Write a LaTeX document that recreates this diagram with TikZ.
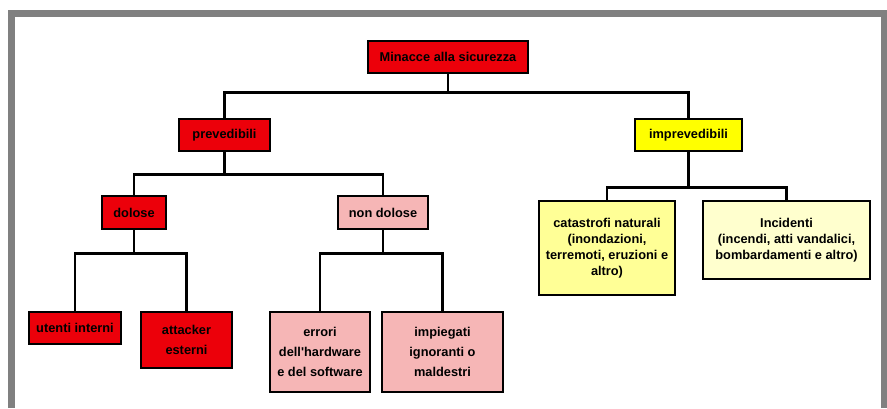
\documentclass[tikz,border=0pt]{standalone}
\usepackage{fontspec}
\setmainfont{Liberation Sans}

\definecolor{threatred}{RGB}{236,0,10}
\definecolor{threatpink}{RGB}{246,182,182}
\definecolor{threatyellow}{RGB}{255,255,0}
\definecolor{paleyellow}{RGB}{255,255,150}
\definecolor{lightyellow}{RGB}{255,255,206}

\tikzstyle{element}=[rectangle, draw=black, line width=2.4pt, inner sep=0pt,
                     align=center, font=\bfseries\fontsize{12.8}{16}\selectfont]
\tikzstyle{tall}=[element, font=\bfseries\fontsize{12.8}{20}\selectfont]
\tikzstyle{link}=[line width=2.6pt, black]

\begin{document}
\begin{tikzpicture}[x=1pt, y=-1pt]
  \useasboundingbox (0, 0) rectangle (887, 408);

  %%%%%%%%%%%%%%%%%%%%%%%%%%%%%%
  % frame
  \draw[gray, line width=7pt] (11.5, 408) |- (884.5, 13.5) -- (884.5, 408);

  %%%%%%%%%%%%%%%%%%%%%%%%%%%%%%
  %%%%%%%%%%%%%%%%%%%%%%%%%%%%%%
  % hierarchy

  %%%%%%%%%%%%%%%%%%%%%%%%%%%%%%
  % nodes
  % root
  \node (root) at (448, 57) [element, fill=threatred, minimum width=160pt, minimum height=32pt] {Minacce alla sicurezza};

  % level 1
  \node (prev) at (224.5, 135) [element, fill=threatred, minimum width=91pt, minimum height=32pt] {prevedibili};

  \node (imprev) at (688.5, 135) [element, fill=threatyellow, minimum width=107pt, minimum height=32pt] {imprevedibili};

  % level 2
  \node (dolose) at (134, 212.5) [element, fill=threatred, minimum width=64pt, minimum height=33pt] {dolose};

  \node (nondolose) at (383, 212.5) [element, fill=threatpink, minimum width=90pt, minimum height=33pt] {non dolose};

  \node (catastrofi) at (607, 248) [element, fill=paleyellow, minimum width=136pt, minimum height=94pt] {catastrofi naturali\\(inondazioni,\\terremoti, eruzioni e\\altro)};

  \node (incidenti) at (786.5, 240) [element, fill=lightyellow, minimum width=167pt, minimum height=78pt] {Incidenti\\(incendi, atti vandalici,\\bombardamenti e altro)};

  % level 3
  \node (utenti) at (75, 328) [element, fill=threatred, minimum width=92pt, minimum height=32pt] {utenti interni};

  \node (attacker) at (186.5, 340) [tall, fill=threatred, minimum width=91pt, minimum height=56pt] {attacker\\esterni};

  \node (errori) at (320, 352) [tall, fill=threatpink, minimum width=100pt, minimum height=80pt] {errori\\dell\textquotesingle hardware\\e del software};

  \node (impiegati) at (442.5, 352) [tall, fill=threatpink, minimum width=121pt, minimum height=80pt] {impiegati\\ignoranti o\\maldestri};

  %%%%%%%%%%%%%%%%%%%%%%%%%%%%%%
  % links
  \draw [link] (root.south) -- ++(0, 18) -| (prev.north);
  \draw [link] (root.south) -- ++(0, 18) -| (imprev.north);

  \draw [link] (prev.south) -- ++(0, 22) -| (dolose.north);
  \draw [link] (prev.south) -- ++(0, 22) -| (nondolose.north);

  \draw [link] (imprev.south) -- ++(0, 35) -| (catastrofi.north);
  \draw [link] (imprev.south) -- ++(0, 35) -| (incidenti.north);

  \draw [link] (dolose.south) -- ++(0, 23) -| (utenti.north);
  \draw [link] (dolose.south) -- ++(0, 23) -| (attacker.north);

  \draw [link] (nondolose.south) -- ++(0, 23) -| (errori.north);
  \draw [link] (nondolose.south) -- ++(0, 23) -| (impiegati.north);

\end{tikzpicture}
\end{document}
